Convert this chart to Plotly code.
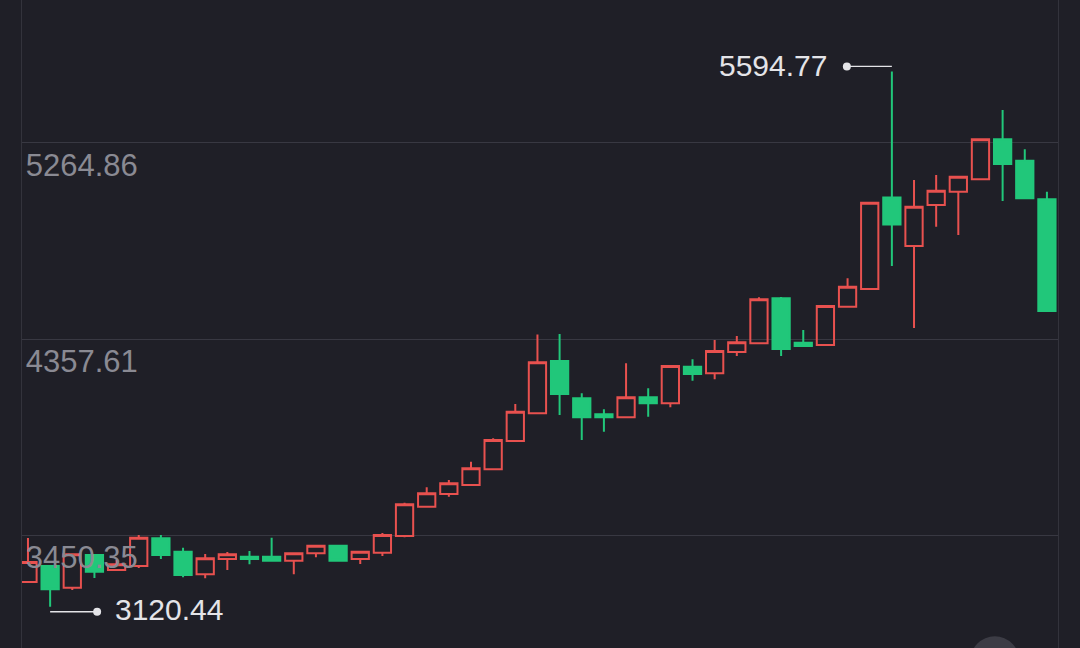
import plotly.graph_objects as go

# ---- data ----
opens = [3235.0, 3308.9, 3208.6, 3359.8, 3290.4, 3309.0, 3436.9, 3375.0, 3270.6, 3341.3,
         3351.9, 3351.9, 3333.4, 3367.6, 3402.7, 3341.3, 3370.4, 3447.5, 3583.0, 3641.6,
         3683.3, 3755.8, 3886.6, 4014.7, 4256.4, 4084.0, 4010.0, 3996.2, 4088.6, 4060.8,
         4230.0, 4199.5, 4297.9, 4338.2, 4546.2, 4341.0, 4330.4, 4507.3, 4589.2, 5012.0,
         4787.9, 4977.4, 5038.9, 5096.2, 5281.0, 5182.1, 5003.7]
highs = [3438.3, 3309.0, 3365.0, 3360.0, 3336.6, 3452.2, 3452.2, 3393.5, 3364.4, 3373.7,
         3378.3, 3439.7, 3368.0, 3403.0, 3403.0, 3375.0, 3461.4, 3601.4, 3672.6, 3706.4,
         3790.9, 3899.1, 4057.6, 4378.8, 4381.2, 4107.1, 4033.1, 4245.7, 4130.2, 4233.2,
         4264.2, 4353.4, 4371.9, 4550.8, 4552.2, 4399.7, 4510.6, 4638.6, 4988.0, 5594.77,
         5092.9, 5116.0, 5108.2, 5281.0, 5416.5, 5234.8, 5038.9]
lows = [3230.0, 3120.44, 3198.0, 3253.5, 3290.0, 3299.7, 3341.3, 3256.7, 3252.0, 3290.4,
        3316.8, 3333.0, 3270.6, 3349.1, 3333.0, 3318.2, 3355.1, 3441.5, 3583.0, 3629.2,
        3683.0, 3755.0, 3886.0, 4010.0, 4006.8, 3891.3, 3929.6, 3996.0, 3998.9, 4042.4,
        4165.3, 4171.8, 4279.5, 4338.0, 4279.5, 4325.0, 4330.0, 4507.0, 4589.0, 4695.4,
        4408.9, 4877.1, 4838.7, 5096.0, 4995.9, 5008.0, 4487.0]
closes = [3327.4, 3201.2, 3363.0, 3282.6, 3316.8, 3439.7, 3359.8, 3267.3, 3344.5, 3363.0,
          3341.3, 3333.4, 3367.6, 3402.7, 3333.4, 3375.0, 3452.2, 3594.1, 3644.9, 3691.1,
          3760.4, 3891.3, 4022.0, 4250.4, 4103.9, 3996.2, 3996.2, 4088.6, 4060.8, 4233.2,
          4196.3, 4302.6, 4342.8, 4541.5, 4311.8, 4325.7, 4510.6, 4599.8, 4988.0, 4887.3,
          4969.5, 5043.5, 5108.2, 5281.0, 5166.9, 5008.4, 4487.4]
x_idx = list(range(len(opens)))
level_vals = [3450.35, 4357.61, 5264.86]
level_text = ["3450.35", "4357.61", "5264.86"]

BG = "#1f1f27"
RED = "#e8514f"
GREEN = "#21c77a"
GRID = "#383842"

fig = go.Figure()
fig.add_trace(go.Candlestick(
    x=x_idx, open=opens, high=highs, low=lows, close=closes,
    increasing=dict(line=dict(color=RED, width=2), fillcolor="rgba(0,0,0,0)"),
    decreasing=dict(line=dict(color=GREEN, width=2), fillcolor=GREEN),
    whiskerwidth=0, showlegend=False, hoverinfo="skip",
))

# extreme markers
i_hi = max(range(len(highs)), key=lambda i: highs[i])
i_lo = min(range(len(lows)), key=lambda i: lows[i])
hi, lo = highs[i_hi], lows[i_lo]
MARK = "#e4e4e8"

shapes = [
    dict(type="line", xref="x", yref="y", xsizemode="pixel", ysizemode="pixel",
         xanchor=i_hi, yanchor=hi, x0=0, x1=-45, y0=5, y1=5,
         line=dict(color=MARK, width=1.3)),
    dict(type="circle", xref="x", yref="y", xsizemode="pixel", ysizemode="pixel",
         xanchor=i_hi, yanchor=hi, x0=-49, x1=-41, y0=1, y1=9,
         fillcolor=MARK, line=dict(width=0)),
    dict(type="line", xref="x", yref="y", xsizemode="pixel", ysizemode="pixel",
         xanchor=i_lo, yanchor=lo, x0=0, x1=47, y0=-5, y1=-5,
         line=dict(color=MARK, width=1.3)),
    dict(type="circle", xref="x", yref="y", xsizemode="pixel", ysizemode="pixel",
         xanchor=i_lo, yanchor=lo, x0=43, x1=51, y0=-9, y1=-1,
         fillcolor=MARK, line=dict(width=0)),
    # faint watermark circle at bottom right
    dict(type="circle", xref="paper", yref="paper", x0=0.915, x1=0.963, y0=-0.06, y1=0.018,
         fillcolor="#3c3c45", line=dict(width=0), layer="below"),
]

annotations = [
    dict(x=i_hi, y=hi, xref="x", yref="y", text=f"{hi:.2f}", showarrow=False,
         xanchor="right", yanchor="middle", xshift=-63, yshift=6,
         font=dict(family="Liberation Sans, Arial", size=30, color=MARK)),
    dict(x=i_lo, y=lo, xref="x", yref="y", text=f"{lo:.2f}", showarrow=False,
         xanchor="left", yanchor="middle", xshift=63, yshift=-3,
         font=dict(family="Liberation Sans, Arial", size=30, color=MARK)),
]

fig.update_layout(
    width=1080, height=648,
    margin=dict(l=22, r=22, t=0, b=0),
    paper_bgcolor=BG, plot_bgcolor=BG,
    boxgap=0.22, boxgroupgap=0,
    shapes=shapes, annotations=annotations,
    xaxis=dict(range=[-0.27, 46.5], showgrid=False, zeroline=False, showticklabels=False,
               ticks="", rangeslider=dict(visible=False), fixedrange=True),
    yaxis=dict(range=[2929.9, 5924.85], tickvals=level_vals, ticktext=level_text,
               showgrid=True, gridcolor=GRID, gridwidth=1, zeroline=False,
               showline=True, linecolor="#33333c", linewidth=1, mirror=True,
               ticks="", ticklabelposition="inside", ticklabelstandoff=7, ticklabelshift=22,
               tickfont=dict(family="Liberation Sans, Arial", size=31, color="#8a8a93")),
)

fig.write_html(
    "out.html",
    config={"displayModeBar": False},
    post_script="document.body.style.margin='0';document.body.style.background='#1f1f27';",
)
